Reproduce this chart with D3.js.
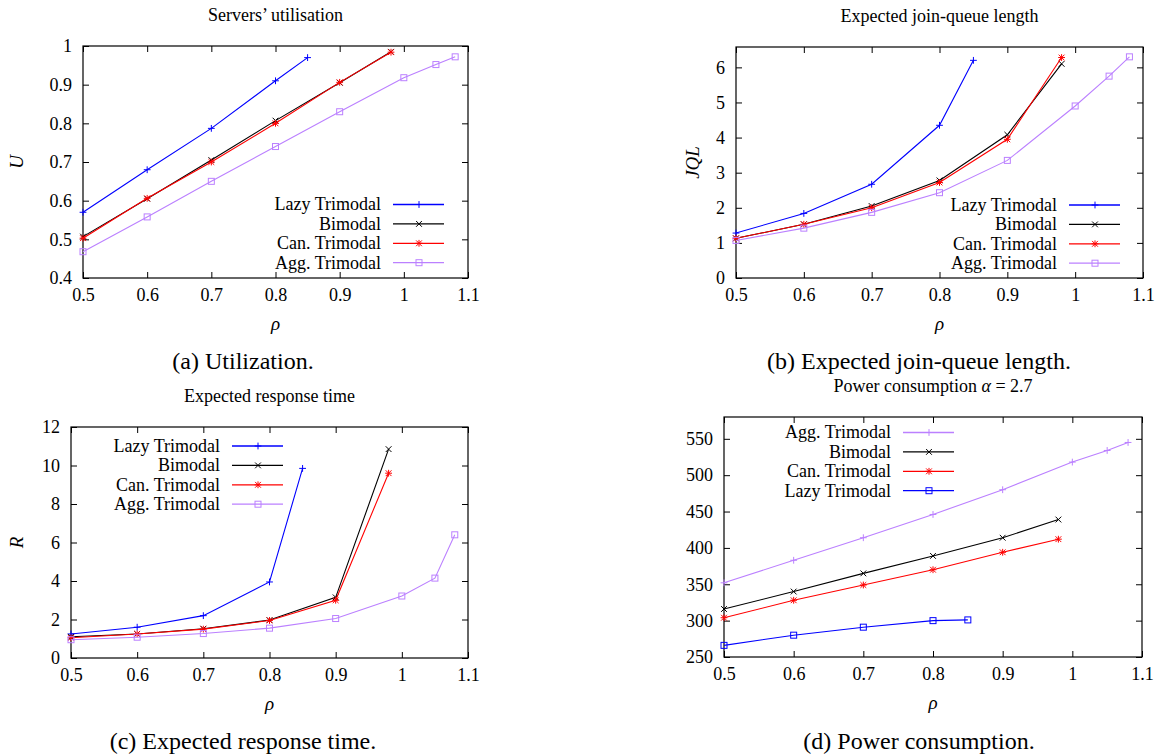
<!DOCTYPE html>
<html>
<head>
<meta charset="utf-8">
<script src="https://cdn.jsdelivr.net/npm/d3@7"></script>
<style>
  body { margin: 0; background: #fff; }
  svg { display: block; }
</style>
</head>
<body>
<svg id="chart" width="1158" height="756"></svg>
<script>
  //Load values on the x axis (rho) for each family of curves
  const rhoLazy = [0.5, 0.6, 0.7, 0.8, 0.85];
  const rhoBi = [0.5, 0.6, 0.7, 0.8, 0.9, 0.98];
  const rhoAgg = [0.5, 0.6, 0.7, 0.8, 0.9, 1.0, 1.05, 1.08];

  //(a) Servers' utilisation
  const utilLazy = [0.570, 0.680, 0.787, 0.910, 0.970];
  const utilBi = [0.507, 0.605, 0.705, 0.807, 0.905, 0.985];
  const utilCan = [0.503, 0.606, 0.700, 0.800, 0.906, 0.984];
  const utilAgg = [0.468, 0.558, 0.650, 0.740, 0.830, 0.918, 0.952, 0.972];

  //(b) Expected join-queue length
  const jqlLazy = [1.28, 1.84, 2.67, 4.35, 6.20];
  const jqlBi = [1.13, 1.53, 2.05, 2.78, 4.08, 6.10];
  const jqlCan = [1.13, 1.53, 2.00, 2.72, 3.95, 6.28];
  const jqlAgg = [1.07, 1.42, 1.87, 2.43, 3.35, 4.90, 5.75, 6.30];

  //(c) Expected response time
  const respLazy = [1.25, 1.60, 2.20, 3.95, 9.85];
  const respBi = [1.10, 1.25, 1.52, 1.97, 3.15, 10.85];
  const respCan = [1.05, 1.25, 1.50, 1.95, 3.00, 9.60];
  const respAgg = [0.95, 1.08, 1.27, 1.55, 2.05, 3.22, 4.15, 6.40];

  //(d) Power consumption
  const powAgg = [352, 383, 414, 446, 480, 518, 534, 545];
  const powBi = [316, 340, 365, 389, 414, 439];
  const powCan = [304, 328, 349, 370, 394, 412];
  const powLazy = [266, 280, 291, 300, 301];

  //Tick values
  const xTicks = [0.5, 0.6, 0.7, 0.8, 0.9, 1, 1.1];
  const utilTicks = [0.4, 0.5, 0.6, 0.7, 0.8, 0.9, 1];
  const jqlTicks = [0, 1, 2, 3, 4, 5, 6];
  const respTicks = [0, 2, 4, 6, 8, 10, 12];
  const powTicks = [250, 300, 350, 400, 450, 500, 550];

  //Series names and colours
  const names = { lazy: 'Lazy Trimodal', bi: 'Bimodal', can: 'Can. Trimodal', agg: 'Agg. Trimodal' };
  const colors = { lazy: '#0000ff', bi: '#000000', can: '#ff0000', agg: '#bb80ff' };

  const FONT = '"Liberation Serif"';
  const svg = d3.select('#chart');

  //Draws one gnuplot style point
  function drawMarker(g, type, x, y, color) {
    const s = 3.4;
    const m = g.append('g').attr('stroke', color).attr('stroke-width', 1).attr('fill', 'none');
    if (type === 'plus' || type === 'star') {
      m.append('line').attr('x1', x - s).attr('x2', x + s).attr('y1', y).attr('y2', y);
      m.append('line').attr('x1', x).attr('x2', x).attr('y1', y - s).attr('y2', y + s);
    }
    if (type === 'cross' || type === 'star') {
      const c = s * 0.85;
      m.append('line').attr('x1', x - c).attr('x2', x + c).attr('y1', y - c).attr('y2', y + c);
      m.append('line').attr('x1', x - c).attr('x2', x + c).attr('y1', y + c).attr('y2', y - c);
    }
    if (type === 'square') {
      m.append('rect').attr('x', x - 3).attr('y', y - 3).attr('width', 6).attr('height', 6);
    }
  }

  function label(g, x, y, size, str) {
    return g.append('text')
      .attr('x', x).attr('y', y)
      .attr('fill', '#000')
      .attr('font-size', size)
      .style('font-family', FONT)
      .text(str);
  }

  function drawPanel(p) {
    const g = svg.append('g');
    const x = d3.scaleLinear().domain([0.5, 1.1]).range([p.left, p.right]);
    const y = d3.scaleLinear().domain(p.yDomain).range([p.bottom, p.top]);
    const fmt = d => String(+d.toFixed(2));

    //Axes with inward ticks on all four sides
    g.append('g').attr('transform', `translate(0,${p.bottom})`)
      .call(d3.axisBottom(x).tickValues(xTicks).tickFormat(fmt).tickSize(-6).tickPadding(10));
    g.append('g').attr('transform', `translate(0,${p.top})`)
      .call(d3.axisTop(x).tickValues(xTicks).tickFormat('').tickSize(-6));
    g.append('g').attr('transform', `translate(${p.left},0)`)
      .call(d3.axisLeft(y).tickValues(p.yTicks).tickFormat(fmt).tickSize(-6).tickPadding(11));
    g.append('g').attr('transform', `translate(${p.right},0)`)
      .call(d3.axisRight(y).tickValues(p.yTicks).tickFormat('').tickSize(-6));
    g.selectAll('.domain').remove();
    g.selectAll('.tick line').attr('stroke', '#000');
    g.selectAll('.tick text')
      .attr('fill', '#000')
      .attr('font-size', 18)
      .style('font-family', FONT);

    //Border
    g.append('rect')
      .attr('x', p.left).attr('y', p.top)
      .attr('width', p.right - p.left).attr('height', p.bottom - p.top)
      .attr('fill', 'none').attr('stroke', '#000').attr('stroke-width', 1.2);

    //Curves
    const line = d3.line().x(d => x(d[0])).y(d => y(d[1]));
    p.series.forEach(s => {
      const pts = s.xs.map((v, i) => [v, s.ys[i]]);
      g.append('path').datum(pts)
        .attr('d', line)
        .attr('fill', 'none')
        .attr('stroke', colors[s.key])
        .attr('stroke-width', 1.1);
      pts.forEach(d => drawMarker(g, s.marker, x(d[0]), y(d[1]), colors[s.key]));
    });

    //Legend
    p.series.forEach((s, i) => {
      const ly = p.legendTop + i * 19.4;
      label(g, p.legendRight, ly, 18, names[s.key])
        .attr('dy', '0.33em')
        .attr('text-anchor', 'end');
      g.append('line')
        .attr('x1', p.legendRight + 12).attr('x2', p.legendRight + 63)
        .attr('y1', ly).attr('y2', ly)
        .attr('stroke', colors[s.key]).attr('stroke-width', 1.3);
      drawMarker(g, s.marker, p.legendRight + 38, ly, colors[s.key]);
    });

    //Title
    const t = label(g, (p.left + p.right) / 2, p.top - 25, 18, null)
      .attr('text-anchor', 'middle');
    p.title.forEach(part => {
      t.append('tspan')
        .style('font-family', FONT)
        .style('font-style', part.italic ? 'italic' : 'normal')
        .text(part.text);
    });

    //x label
    label(g, (p.left + p.right) / 2, p.bottom + 52, 19, 'ρ')
      .attr('text-anchor', 'middle')
      .style('font-style', 'italic');

    //y label
    if (p.ylabel) {
      label(g, 0, 0, 19, p.ylabel)
        .attr('transform', `translate(${p.ylabelX},${(p.top + p.bottom) / 2}) rotate(-90)`)
        .attr('text-anchor', 'middle')
        .style('font-style', 'italic');
    }

    //Caption
    label(g, p.captionX, p.captionY, 24, p.caption)
      .attr('text-anchor', 'middle');
  }

  drawPanel({
    left: 83, right: 468, top: 46, bottom: 278,
    yDomain: [0.4, 1], yTicks: utilTicks,
    title: [{ text: 'Servers’ utilisation' }],
    ylabel: 'U', ylabelX: 23,
    caption: '(a) Utilization.', captionX: 243, captionY: 369,
    legendRight: 381, legendTop: 204.5,
    series: [
      { key: 'lazy', xs: rhoLazy, ys: utilLazy, marker: 'plus' },
      { key: 'bi', xs: rhoBi, ys: utilBi, marker: 'cross' },
      { key: 'can', xs: rhoBi, ys: utilCan, marker: 'star' },
      { key: 'agg', xs: rhoAgg, ys: utilAgg, marker: 'square' }
    ]
  });

  drawPanel({
    left: 736, right: 1143, top: 47, bottom: 278,
    yDomain: [0, 6.58], yTicks: jqlTicks,
    title: [{ text: 'Expected join-queue length' }],
    ylabel: 'JQL', ylabelX: 699,
    caption: '(b) Expected join-queue length.', captionX: 919, captionY: 369,
    legendRight: 1057, legendTop: 205,
    series: [
      { key: 'lazy', xs: rhoLazy, ys: jqlLazy, marker: 'plus' },
      { key: 'bi', xs: rhoBi, ys: jqlBi, marker: 'cross' },
      { key: 'can', xs: rhoBi, ys: jqlCan, marker: 'star' },
      { key: 'agg', xs: rhoAgg, ys: jqlAgg, marker: 'square' }
    ]
  });

  drawPanel({
    left: 71, right: 468, top: 427, bottom: 658,
    yDomain: [0, 12], yTicks: respTicks,
    title: [{ text: 'Expected response time' }],
    ylabel: 'R', ylabelX: 23,
    caption: '(c) Expected response time.', captionX: 243, captionY: 749,
    legendRight: 220, legendTop: 446,
    series: [
      { key: 'lazy', xs: rhoLazy, ys: respLazy, marker: 'plus' },
      { key: 'bi', xs: rhoBi, ys: respBi, marker: 'cross' },
      { key: 'can', xs: rhoBi, ys: respCan, marker: 'star' },
      { key: 'agg', xs: rhoAgg, ys: respAgg, marker: 'square' }
    ]
  });

  drawPanel({
    left: 724, right: 1142, top: 417, bottom: 657,
    yDomain: [250, 580], yTicks: powTicks,
    title: [{ text: 'Power consumption ' }, { text: 'α', italic: true }, { text: ' = 2.7' }],
    ylabel: null,
    caption: '(d) Power consumption.', captionX: 919, captionY: 749,
    legendRight: 891, legendTop: 432.5,
    series: [
      { key: 'agg', xs: rhoAgg, ys: powAgg, marker: 'plus' },
      { key: 'bi', xs: rhoBi, ys: powBi, marker: 'cross' },
      { key: 'can', xs: rhoBi, ys: powCan, marker: 'star' },
      { key: 'lazy', xs: rhoLazy, ys: powLazy, marker: 'square' }
    ]
  });
</script>
</body>
</html>
